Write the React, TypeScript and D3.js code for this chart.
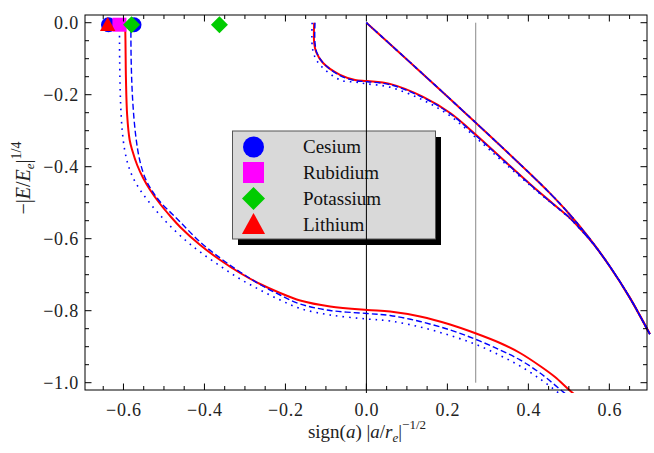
import React from 'react';
import * as d3 from 'd3';

type P = [number, number];

// ---- axis ticks ----
const xMajor = [-0.6, -0.4, -0.2, 0, 0.2, 0.4, 0.6];
const xMajorLabels = ['−0.6', '−0.4', '−0.2', '0.0', '0.2', '0.4', '0.6'];
const yMajor = [0, -0.2, -0.4, -0.6, -0.8, -1.0];
const yMajorLabels = ['0.0', '−0.2', '−0.4', '−0.6', '−0.8', '−1.0'];
const xMinor = [-0.65, -0.55, -0.5, -0.45, -0.35, -0.3, -0.25, -0.15, -0.1, -0.05, 0.05, 0.1, 0.15, 0.25, 0.3, 0.35, 0.45, 0.5, 0.55, 0.65];
const yMinor = [-0.05, -0.1, -0.15, -0.25, -0.3, -0.35, -0.45, -0.5, -0.55, -0.65, -0.7, -0.75, -0.85, -0.9, -0.95];

// ---- reference lines ----
const zeroLine: P[] = [[0, 0], [0, -1.05]];
const grayLine: P[] = [[0.27, 0], [0.27, -1.0]];

// ---- atom–dimer threshold (shared by all models) ----
const threshold: P[] = [
  [0, 0], [0.1, -0.102], [0.2, -0.205], [0.3, -0.309], [0.4, -0.415], [0.45, -0.47],
  [0.5, -0.53], [0.55, -0.598], [0.6, -0.675], [0.65, -0.763], [0.7, -0.865],
];

// ---- red solid model ----
const redLeft: P[] = [
  [-0.5958, 0], [-0.5951, -0.0481], [-0.5938, -0.1592], [-0.5909, -0.2564], [-0.5847, -0.3258],
  [-0.5785, -0.3536], [-0.5662, -0.3953], [-0.5514, -0.4314], [-0.5341, -0.4647], [-0.5094, -0.5036],
  [-0.4847, -0.5369], [-0.46, -0.5675], [-0.4106, -0.6175], [-0.3612, -0.6592], [-0.3119, -0.6953],
  [-0.2625, -0.7258], [-0.2131, -0.7508], [-0.1637, -0.7717], [-0.0896, -0.7883], [0.0017, -0.7981],
  [0.0585, -0.8022], [0.1326, -0.8161], [0.2067, -0.8383], [0.2709, -0.8633], [0.3301, -0.8897],
  [0.3795, -0.9175], [0.4289, -0.9536], [0.4659, -0.9842], [0.4955, -1.0147], [0.5153, -1.0342],
];
const redMid: P[] = [
  [-0.129, 0], [-0.129, -0.056], [-0.124, -0.082], [-0.107, -0.112], [-0.065, -0.145], [-0.028, -0.159],
  [0.002, -0.162], [0.058, -0.17], [0.14, -0.206], [0.207, -0.251], [0.271, -0.312], [0.338, -0.381],
  [0.421, -0.465], [0.46, -0.502], [0.5, -0.54], [0.53, -0.575], [0.56, -0.614], [0.6, -0.675],
  [0.65, -0.763], [0.7, -0.865],
];

// ---- blue dashed model ----
const dashedLeft: P[] = [
  [-0.5817, 0], [-0.581, -0.1036], [-0.5773, -0.2147], [-0.5699, -0.3119], [-0.56, -0.3814],
  [-0.5464, -0.4314], [-0.5291, -0.4675], [-0.5069, -0.5008], [-0.4798, -0.5314], [-0.46, -0.5536],
  [-0.4106, -0.6092], [-0.3612, -0.6536], [-0.3119, -0.6925], [-0.2625, -0.7272], [-0.2131, -0.7564],
  [-0.1637, -0.7814], [-0.0896, -0.7994], [0.0017, -0.8078], [0.0585, -0.8133], [0.1326, -0.83],
  [0.2067, -0.8536], [0.2709, -0.88], [0.3301, -0.9092], [0.3795, -0.9369], [0.4289, -0.9731],
  [0.4832, -1.0231], [0.4955, -1.0342],
];
const dashedMid: P[] = [
  [-0.127, 0], [-0.127, -0.056], [-0.122, -0.084], [-0.105, -0.114], [-0.065, -0.147], [-0.028, -0.161],
  [0.002, -0.164], [0.058, -0.172], [0.14, -0.208], [0.207, -0.253], [0.271, -0.314], [0.338, -0.382],
  [0.421, -0.466], [0.46, -0.503], [0.5, -0.54], [0.53, -0.575], [0.56, -0.614], [0.6, -0.675],
  [0.65, -0.763], [0.7, -0.865],
];

// ---- blue dotted model ----
const dottedLeft: P[] = [
  [-0.6099, 0], [-0.6094, -0.1036], [-0.6074, -0.2147], [-0.6032, -0.2981], [-0.597, -0.3536],
  [-0.5884, -0.3953], [-0.576, -0.4314], [-0.5588, -0.4647], [-0.539, -0.4953], [-0.5143, -0.5286],
  [-0.4847, -0.5647], [-0.4477, -0.6036], [-0.4106, -0.6369], [-0.3612, -0.6758], [-0.3119, -0.7119],
  [-0.2625, -0.7425], [-0.2131, -0.7703], [-0.1637, -0.7939], [-0.0896, -0.8119], [0.0017, -0.8231],
  [0.0585, -0.8286], [0.1326, -0.8453], [0.2067, -0.8689], [0.2709, -0.8939], [0.3301, -0.9244],
  [0.3795, -0.9536], [0.4289, -0.9897], [0.4684, -1.0231], [0.4807, -1.0342],
];
const dottedMid: P[] = [
  [-0.134, 0], [-0.134, -0.062], [-0.129, -0.09], [-0.114, -0.118], [-0.065, -0.159], [-0.028, -0.165],
  [0.002, -0.17], [0.058, -0.179], [0.14, -0.215], [0.207, -0.259], [0.271, -0.32], [0.338, -0.387],
  [0.421, -0.468], [0.46, -0.504], [0.5, -0.541], [0.53, -0.576], [0.56, -0.614], [0.6, -0.675],
  [0.65, -0.763], [0.7, -0.865],
];

// ---- threshold markers (x positions at E = 0) ----
const cesiumX = [-0.637, -0.574];
const rubidiumX = [-0.61];
const potassiumX = [-0.58, -0.363];
const lithiumX = [-0.639];
const markerY = 0;

const legendNames = ['Cesium', 'Rubidium', 'Potassium', 'Lithium'];
const colors = { cs: '#0000ff', rb: '#ff00ff', k: '#00cc00', li: '#ff0000' };

const FONT = "'Liberation Serif', 'Times New Roman', Times, serif";

function Marker({ kind, cx, cy, s }: { kind: string; cx: number; cy: number; s: number }) {
  if (kind === 'circle') return <circle cx={cx} cy={cy} r={s / 2} fill={colors.cs} />;
  if (kind === 'square') return <rect x={cx - s / 2} y={cy - s / 2} width={s} height={s} fill={colors.rb} />;
  if (kind === 'diamond') {
    const h = s / 2 + 1;
    return <path d={`M${cx},${cy - h}L${cx + h},${cy}L${cx},${cy + h}L${cx - h},${cy}Z`} fill={colors.k} />;
  }
  const w = s * 1.1, hh = s;
  return <path d={`M${cx},${cy - hh * 0.55}L${cx + w / 2},${cy + hh * 0.45}L${cx - w / 2},${cy + hh * 0.45}Z`} fill={colors.li} />;
}

export default function App() {
  const L = 85, R = 647, T = 15, B = 390;
  const x = d3.scaleLinear().domain([-0.695, 0.693]).range([L, R]);
  const y = d3.scaleLinear().domain([-1.0203, 0.0214]).range([B, T]);
  const line = d3.line<P>().x(d => x(d[0])).y(d => y(d[1])).curve(d3.curveCatmullRom.alpha(0.5));
  const straight = d3.line<P>().x(d => x(d[0])).y(d => y(d[1]));

  const majorLen = 6.5, minorLen = 4;
  const my = y(markerY) + 2;

  const legendX = 232.5, legendY = 131, legendW = 203, legendH = 108;
  const legendKinds = ['circle', 'square', 'diamond', 'triangle'];
  const legendRowY = [147, 172.5, 198.5, 224.5];
  const legendBase = [153.3, 179.3, 205, 230.7];

  const redSet = [redLeft, redMid, threshold];
  const dashedSet = [dashedLeft, dashedMid, threshold];
  const dottedSet = [dottedLeft, dottedMid, threshold];

  return (
    <svg width={654} height={453} style={{ position: 'absolute', left: 0, top: 0, background: '#fff' }} fontFamily={FONT}>
      <defs>
        <clipPath id="plotclip">
          <rect x={L} y={T} width={R - L + 4} height={B - T + 3} />
        </clipPath>
      </defs>

      {/* legend */}
      <rect x={legendX + 5.5} y={legendY + 6} width={legendW} height={legendH} fill="#000" />
      <rect x={legendX} y={legendY} width={legendW} height={legendH} fill="#d9d9d9" stroke="#555" strokeWidth={1} />
      {legendNames.map((n, i) => (
        <g key={n}>
          <Marker kind={legendKinds[i]} cx={legendX + 21} cy={legendRowY[i]} s={21} />
          <text x={303} y={legendBase[i]} fontSize={19} fill="#111">{n}</text>
        </g>
      ))}

      {/* reference lines */}
      <path d={straight(zeroLine) || ''} stroke="#000" strokeWidth={1} fill="none" clipPath="url(#plotclip)" />
      <path d={straight(grayLine) || ''} stroke="#888" strokeWidth={1} fill="none" />

      {/* curves */}
      <g clipPath="url(#plotclip)" fill="none">
        {redSet.map((d, i) => (
          <path key={'r' + i} d={line(d) || ''} stroke="#ff0000" strokeWidth={2} />
        ))}
        {dashedSet.map((d, i) => (
          <path key={'d' + i} d={line(d) || ''} stroke="#0000ff" strokeWidth={1.4} strokeDasharray="6,3" />
        ))}
        {dottedSet.map((d, i) => (
          <path key={'o' + i} d={line(d) || ''} stroke="#0000ff" strokeWidth={1.6} strokeDasharray="1.6,5" />
        ))}
      </g>

      {/* markers */}
      {cesiumX.map((v, i) => <Marker key={'cs' + i} kind="circle" cx={x(v)} cy={my} s={15} />)}
      {rubidiumX.map((v, i) => <Marker key={'rb' + i} kind="square" cx={x(v)} cy={my} s={14} />)}
      {potassiumX.map((v, i) => <Marker key={'k' + i} kind="diamond" cx={x(v)} cy={my} s={15} />)}
      {lithiumX.map((v, i) => <Marker key={'li' + i} kind="triangle" cx={x(v)} cy={my} s={14} />)}

      {/* frame */}
      <rect x={L} y={T} width={R - L} height={B - T} fill="none" stroke="#000" strokeWidth={1} />
      {xMajor.map(v => (
        <g key={'xm' + v}>
          <line x1={x(v)} x2={x(v)} y1={B} y2={B - majorLen} stroke="#000" />
          <line x1={x(v)} x2={x(v)} y1={T} y2={T + majorLen} stroke="#000" />
        </g>
      ))}
      {xMinor.map(v => (
        <g key={'xn' + v}>
          <line x1={x(v)} x2={x(v)} y1={B} y2={B - minorLen} stroke="#000" />
          <line x1={x(v)} x2={x(v)} y1={T} y2={T + minorLen} stroke="#000" />
        </g>
      ))}
      {yMajor.map(v => (
        <g key={'ym' + v}>
          <line x1={L} x2={L + majorLen} y1={y(v)} y2={y(v)} stroke="#000" />
          <line x1={R} x2={R - majorLen} y1={y(v)} y2={y(v)} stroke="#000" />
        </g>
      ))}
      {yMinor.map(v => (
        <g key={'yn' + v}>
          <line x1={L} x2={L + minorLen} y1={y(v)} y2={y(v)} stroke="#000" />
          <line x1={R} x2={R - minorLen} y1={y(v)} y2={y(v)} stroke="#000" />
        </g>
      ))}

      {/* tick labels */}
      {xMajor.map((v, i) => (
        <text key={'xl' + v} x={x(v) + 0.5} y={415.5} textAnchor="middle" fontSize={18} letterSpacing={0.8} fill="#222">{xMajorLabels[i]}</text>
      ))}
      {yMajor.map((v, i) => (
        <text key={'yl' + v} x={79} y={y(v) + 6.5} textAnchor="end" fontSize={18} letterSpacing={0.8} fill="#222">{yMajorLabels[i]}</text>
      ))}

      {/* axis titles */}
      <text x={367} y={437.5} textAnchor="middle" fontSize={19} fill="#222">
        sign(<tspan fontStyle="italic">a</tspan>) |<tspan fontStyle="italic">a</tspan>/<tspan fontStyle="italic">r</tspan>
        <tspan fontStyle="italic" fontSize={13} dy={4}>e</tspan>
        <tspan dy={-4}>|</tspan>
        <tspan fontSize={13} dy={-9}>−1/2</tspan>
      </text>
      <text transform="translate(30,178) rotate(-90)" textAnchor="middle" fontSize={20} fill="#222">
        −|<tspan fontStyle="italic">E</tspan>/<tspan fontStyle="italic">E</tspan>
        <tspan fontStyle="italic" fontSize={13} dy={4}>e</tspan>
        <tspan dy={-4}>|</tspan>
        <tspan fontSize={14} dy={-9}>1/4</tspan>
      </text>
    </svg>
  );
}
